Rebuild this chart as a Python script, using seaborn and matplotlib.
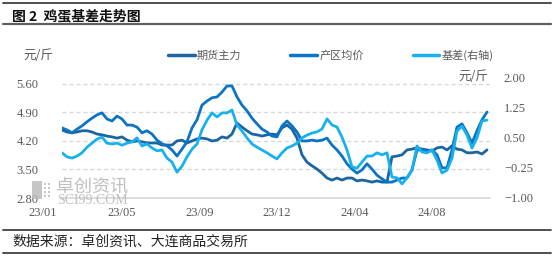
import numpy as np
import pandas as pd
import matplotlib
matplotlib.use("Agg")
import matplotlib.pyplot as plt
import seaborn as sns
from matplotlib.lines import Line2D
from matplotlib.patches import Rectangle

# ---------------- data (元/斤), sampled along the trading-day axis ----------------
futures = [4.47, 4.42, 4.40, 4.42, 4.45, 4.45, 4.42, 4.37, 4.35, 4.32,
           4.30, 4.27, 4.30, 4.22, 4.18, 4.20, 4.18, 4.15, 4.15, 4.15,
           4.10, 4.10, 4.10, 4.20, 4.22, 4.15, 4.20, 4.25, 4.27, 4.25,
           4.20, 4.22, 4.30, 4.27, 4.37, 4.64, 4.54, 4.45, 4.37, 4.35,
           4.32, 4.35, 4.37, 4.35, 4.52, 4.59, 4.49, 4.27, 3.86, 3.68,
           3.59, 3.51, 3.41, 3.29, 3.24, 3.29, 3.24, 3.29, 3.29, 3.22,
           3.24, 3.22, 3.19, 3.22, 3.19, 3.19, 3.81, 3.83, 3.86, 3.98,
           4.00, 4.03, 4.00, 3.98, 3.95, 4.03, 4.05, 3.98, 4.08, 4.00,
           3.98, 3.91, 3.91, 3.93, 3.88, 3.98]
spot = [4.52, 4.47, 4.40, 4.49, 4.57, 4.67, 4.76, 4.84, 4.89, 4.74,
        4.69, 4.81, 4.74, 4.59, 4.59, 4.54, 4.40, 4.45, 4.37, 4.22,
        4.13, 4.08, 3.98, 3.83, 4.00, 4.18, 4.52, 4.72, 5.08, 5.18,
        5.26, 5.28, 5.40, 5.55, 5.55, 5.28, 5.08, 4.94, 4.76, 4.62,
        4.49, 4.42, 4.32, 4.30, 4.57, 4.69, 4.57, 4.42, 4.20, 4.20,
        4.22, 4.20, 4.22, 4.27, 4.10, 3.98, 3.83, 3.64, 3.51, 3.41,
        3.49, 3.64, 3.51, 3.36, 3.27, 3.19, 3.19, 3.24, 3.29, 3.29,
        3.49, 3.98, 3.98, 3.95, 3.98, 3.86, 3.54, 3.54, 3.98, 4.54,
        4.62, 4.40, 4.15, 4.45, 4.72, 4.91]
basis = [0.12, 0.02, -0.01, 0.04, 0.12, 0.26, 0.36, 0.46, 0.51, 0.36,
         0.34, 0.36, 0.31, 0.36, 0.39, 0.49, 0.29, 0.34, 0.24, 0.17,
         0.19, -0.01, -0.11, -0.36, -0.21, 0.02, 0.21, 0.34, 0.69, 0.93,
         1.11, 1.01, 1.11, 1.11, 1.18, 0.81, 0.66, 0.49, 0.34, 0.26,
         0.19, 0.12, 0.04, -0.03, 0.12, 0.24, 0.29, 0.36, 0.49, 0.56,
         0.61, 0.64, 0.71, 0.96, 0.81, 0.76, 0.51, 0.19, -0.23, -0.26,
         -0.11, 0.04, 0.04, 0.12, 0.07, 0.12, -0.48, -0.50, -0.65, -0.50,
         -0.31, 0.29, 0.14, 0.12, 0.19, -0.06, -0.38, -0.31, -0.01, 0.66,
         0.78, 0.56, 0.24, 0.49, 0.91, 0.93]

x_labels = ["23/01", "23/05", "23/09", "23/12", "24/04", "24/08"]
x_label_pos = [-3.8, 12.0, 27.6, 43.0, 58.6, 74.0]
left_ticks = [2.80, 3.50, 4.20, 4.90, 5.60]
right_ticks = [-1.00, -0.25, 0.50, 1.25, 2.00]

names = ["期货主力", "产区均价", "基差(右轴)"]
colors = ["#1B66A2", "#0B74C4", "#17B2EE"]

# ---------------- styling ----------------
sns.set_style("white")
plt.rcParams["font.family"] = ["Noto Sans CJK SC", "DejaVu Sans"]
plt.rcParams["axes.unicode_minus"] = True

W, H = 554, 258
fig = plt.figure(figsize=(W / 100, H / 100), dpi=100)

def fx(px):
    return px / W

def fy(py):
    return 1 - py / H

ax_l, ax_r, ax_t, ax_b = 62, 490, 77, 198
ax = fig.add_axes([fx(ax_l), fy(ax_b), fx(ax_r) - fx(ax_l), fy(ax_t) - fy(ax_b)])
ax2 = ax.twinx()

n = len(spot)
df = pd.DataFrame({"idx": np.arange(n), "futures": futures, "spot": spot, "basis": basis})

sns.lineplot(data=df, x="idx", y="futures", ax=ax, color=colors[0], lw=2.0, label=names[0], legend=False)
sns.lineplot(data=df, x="idx", y="spot", ax=ax, color=colors[1], lw=2.0, label=names[1], legend=False)
sns.lineplot(data=df, x="idx", y="basis", ax=ax2, color=colors[2], lw=2.0, label=names[2], legend=False)

ax.set_xlim(0, 85.6)
ax.set_ylim(2.80, 5.77)
ax2.set_ylim(-1.00, 2.00)

ax.set_yticks(left_ticks)
ax.set_yticklabels([f"{v:.2f}" for v in left_ticks])
ax2.set_yticks(right_ticks)
ax2.set_yticklabels([f"{v:.2f}".replace("-", "\u2212") for v in right_ticks])
ax.set_xticks([])
ax.set_xlabel("")
ax.set_ylabel("")
ax2.set_ylabel("")

grey = "#595959"
for a in (ax, ax2):
    for s in a.spines.values():
        s.set_visible(False)
    a.tick_params(axis="both", length=0, labelcolor=grey)
    for t in a.get_yticklabels():
        t.set_fontfamily("Liberation Serif")
        t.set_fontsize(9)
ax.tick_params(axis="y", pad=17)
ax2.tick_params(axis="y", pad=10)

ax.yaxis.grid(True, linestyle=(0, (3, 2)), color="#d9d9d9", lw=1.0)
ax.spines["bottom"].set_visible(True)
ax.spines["bottom"].set_color("#d9d9d9")
ax.spines["bottom"].set_linewidth(1.2)
ax.set_axisbelow(True)

for pos, lab in zip(x_label_pos, x_labels):
    ax.text(pos, -0.124, lab, transform=ax.get_xaxis_transform(), ha="center", va="center",
            fontsize=9, color=grey, fontfamily="Liberation Serif", clip_on=False)

# units
fig.text(fx(23), fy(56), "元/斤", fontsize=9, color=grey, ha="left", va="center")
fig.text(fx(458), fy(77), "元/斤", fontsize=9, color=grey, ha="left", va="center")

# legend
handles = [Line2D([], [], color=c, lw=2.5) for c in colors]
leg = fig.legend(handles, names, loc="center left", bbox_to_anchor=(fx(168), fy(55)), ncol=3,
                 frameon=False, handlelength=2.4, handletextpad=0.2, columnspacing=4.4,
                 fontsize=8, borderaxespad=0, borderpad=0)
for t in leg.get_texts():
    t.set_color(grey)

# title and frame lines
fig.text(fx(12), fy(16), "图 2  鸡蛋基差走势图", fontsize=10, fontweight="bold", color="#111111",
         ha="left", va="center")
for py, lw, c in [(3, 1.3, "#404040"), (24, 1.6, "#606060"), (230, 1.3, "#404040"), (253, 1.3, "#404040")]:
    fig.add_artist(Line2D([fx(3), fx(551)], [fy(py), fy(py)], transform=fig.transFigure, lw=lw, color=c))
fig.text(fx(12), fy(242), "数据来源：卓创资讯、大连商品交易所", fontsize=10, color="#222222",
         ha="left", va="center")

# watermark
wm = "#b8b8b8"
fig.add_artist(Rectangle((fx(32), fy(199)), fx(10), 1 - fy(18), transform=fig.transFigure,
                         color=wm, alpha=0.8, lw=0))
for dx in (44, 48):
    for dy in (183, 187, 191, 195):
        fig.add_artist(Rectangle((fx(dx), fy(dy + 2)), fx(2), 1 - fy(2), transform=fig.transFigure,
                                 color=wm, alpha=0.8, lw=0))
fig.text(fx(56), fy(187), "卓创资讯", fontsize=13, color=wm, ha="left", va="center", alpha=0.9)
fig.text(fx(57), fy(201), "SCI99.COM", fontsize=10, color=wm, ha="left", va="center",
         fontfamily="Liberation Serif", alpha=0.9)

fig.savefig("out.png", dpi=100)
